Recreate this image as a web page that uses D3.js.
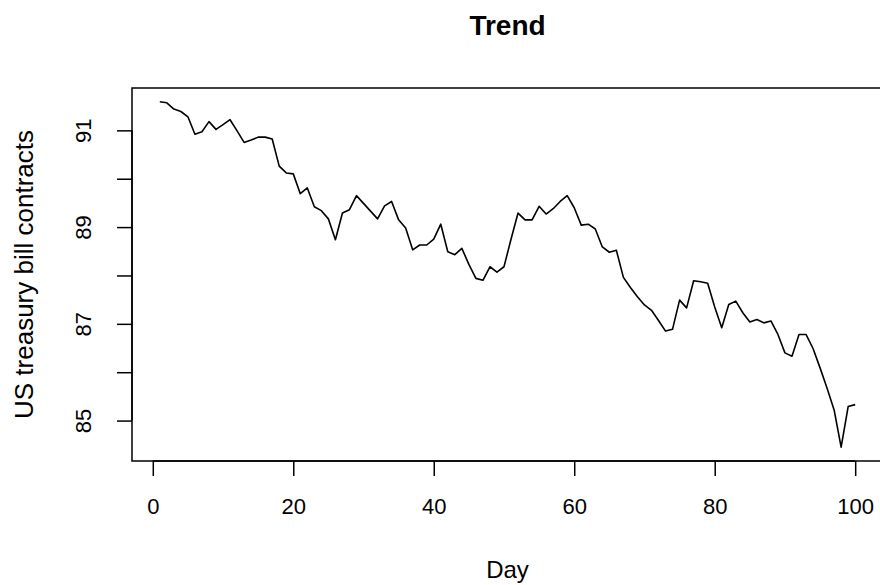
<!DOCTYPE html>
<html>
<head>
<meta charset="utf-8">
<script src="https://cdn.jsdelivr.net/npm/d3@7"></script>
<style>
    body { margin: 0; background: #fff; }
    svg { display: block; font-family: "Liberation Sans", Arial, Helvetica, sans-serif; }
</style>
</head>
<body>
<div id="chart"></div>
<script>
// US treasury bill contracts
var days = d3.range(1, 101);
var prices = [
    91.59, 91.57, 91.44, 91.39, 91.28, 90.92, 90.97, 91.18, 91.02, 91.12,
    91.22, 90.99, 90.75, 90.80, 90.86, 90.86, 90.82, 90.26, 90.12, 90.10,
    89.69, 89.81, 89.42, 89.34, 89.17, 88.74, 89.29, 89.36, 89.65, 89.49,
    89.33, 89.17, 89.44, 89.53, 89.15, 88.98, 88.53, 88.63, 88.63, 88.75,
    89.06, 88.49, 88.43, 88.56, 88.23, 87.94, 87.90, 88.18, 88.07, 88.18,
    88.75, 89.29, 89.15, 89.15, 89.43, 89.27, 89.38, 89.53, 89.65, 89.40,
    89.04, 89.06, 88.96, 88.59, 88.48, 88.52, 87.96, 87.75, 87.56, 87.39,
    87.28, 87.07, 86.85, 86.89, 87.49, 87.33, 87.89, 87.87, 87.84, 87.35,
    86.92, 87.40, 87.47, 87.23, 87.04, 87.09, 87.02, 87.06, 86.78, 86.40,
    86.33, 86.78, 86.78, 86.49, 86.09, 85.67, 85.22, 84.45, 85.29, 85.33
];
var xTicks = [0, 20, 40, 60, 80, 100];
var yTicks = [85, 86, 87, 88, 89, 90, 91];
var yTickLabels = [85, 87, 89, 91];

var chartTitle = "Trend";
var xLabel = "Day";
var yLabel = "US treasury bill contracts";

var width = 880, height = 585;
var margin = { top: 88, right: -3, bottom: 124, left: 132 };

// R style 4% padding of the data range
function pad(ext) {
    var d = (ext[1] - ext[0]) * 0.04;
    return [ext[0] - d, ext[1] + d];
}

var svg = d3.select("#chart")
    .append("svg")
    .attr("width", width)
    .attr("height", height);

var x = d3.scaleLinear()
    .domain(pad(d3.extent(days)))
    .range([margin.left, width - margin.right]);

var y = d3.scaleLinear()
    .domain(pad(d3.extent(prices)))
    .range([height - margin.bottom, margin.top]);

// plot box
svg.append("rect")
    .attr("x", x.range()[0])
    .attr("y", y.range()[1])
    .attr("width", x.range()[1] - x.range()[0])
    .attr("height", y.range()[0] - y.range()[1])
    .attr("fill", "none")
    .attr("stroke", "#000")
    .attr("stroke-width", 1.5);

// x axis
var xAxis = svg.append("g")
    .attr("transform", "translate(0," + y.range()[0] + ")")
    .call(d3.axisBottom(x).tickValues(xTicks).tickSize(15).tickPadding(22).tickSizeOuter(0));
xAxis.select(".domain")
    .attr("d", "M" + x(xTicks[0]) + ",0H" + x(xTicks[xTicks.length - 1]));

// y axis
var yAxis = svg.append("g")
    .attr("transform", "translate(" + x.range()[0] + ",0)")
    .call(d3.axisLeft(y).tickValues(yTicks).tickSize(15).tickSizeOuter(0)
        .tickFormat(function (d) { return yTickLabels.indexOf(d) >= 0 ? d : ""; }));
yAxis.select(".domain")
    .attr("d", "M0," + y(yTicks[0]) + "V" + y(yTicks[yTicks.length - 1]));
yAxis.selectAll(".tick text")
    .attr("transform", "rotate(-90)")
    .attr("x", 0)
    .attr("y", -41)
    .attr("dy", 0)
    .attr("text-anchor", "middle");

svg.selectAll(".tick line, .domain")
    .attr("stroke", "#000")
    .attr("stroke-width", 1.5);
svg.selectAll(".tick text")
    .attr("fill", "#000")
    .style("font-size", "22px");

// the series
var line = d3.line()
    .x(function (d, i) { return x(days[i]); })
    .y(function (d) { return y(d); });

svg.append("path")
    .datum(prices)
    .attr("d", line)
    .attr("fill", "none")
    .attr("stroke", "#000")
    .attr("stroke-width", 1.6)
    .attr("stroke-linejoin", "round");

// title and axis labels
var midX = (x.range()[0] + x.range()[1]) / 2;
var midY = (y.range()[0] + y.range()[1]) / 2;

svg.append("text")
    .attr("x", midX)
    .attr("y", 35)
    .attr("text-anchor", "middle")
    .style("font-size", "28px")
    .style("font-weight", "bold")
    .text(chartTitle);

svg.append("text")
    .attr("x", midX)
    .attr("y", 578)
    .attr("text-anchor", "middle")
    .style("font-size", "24px")
    .text(xLabel);

svg.append("text")
    .attr("transform", "translate(33," + midY + ") rotate(-90)")
    .attr("text-anchor", "middle")
    .style("font-size", "26px")
    .text(yLabel);
</script>
</body>
</html>
